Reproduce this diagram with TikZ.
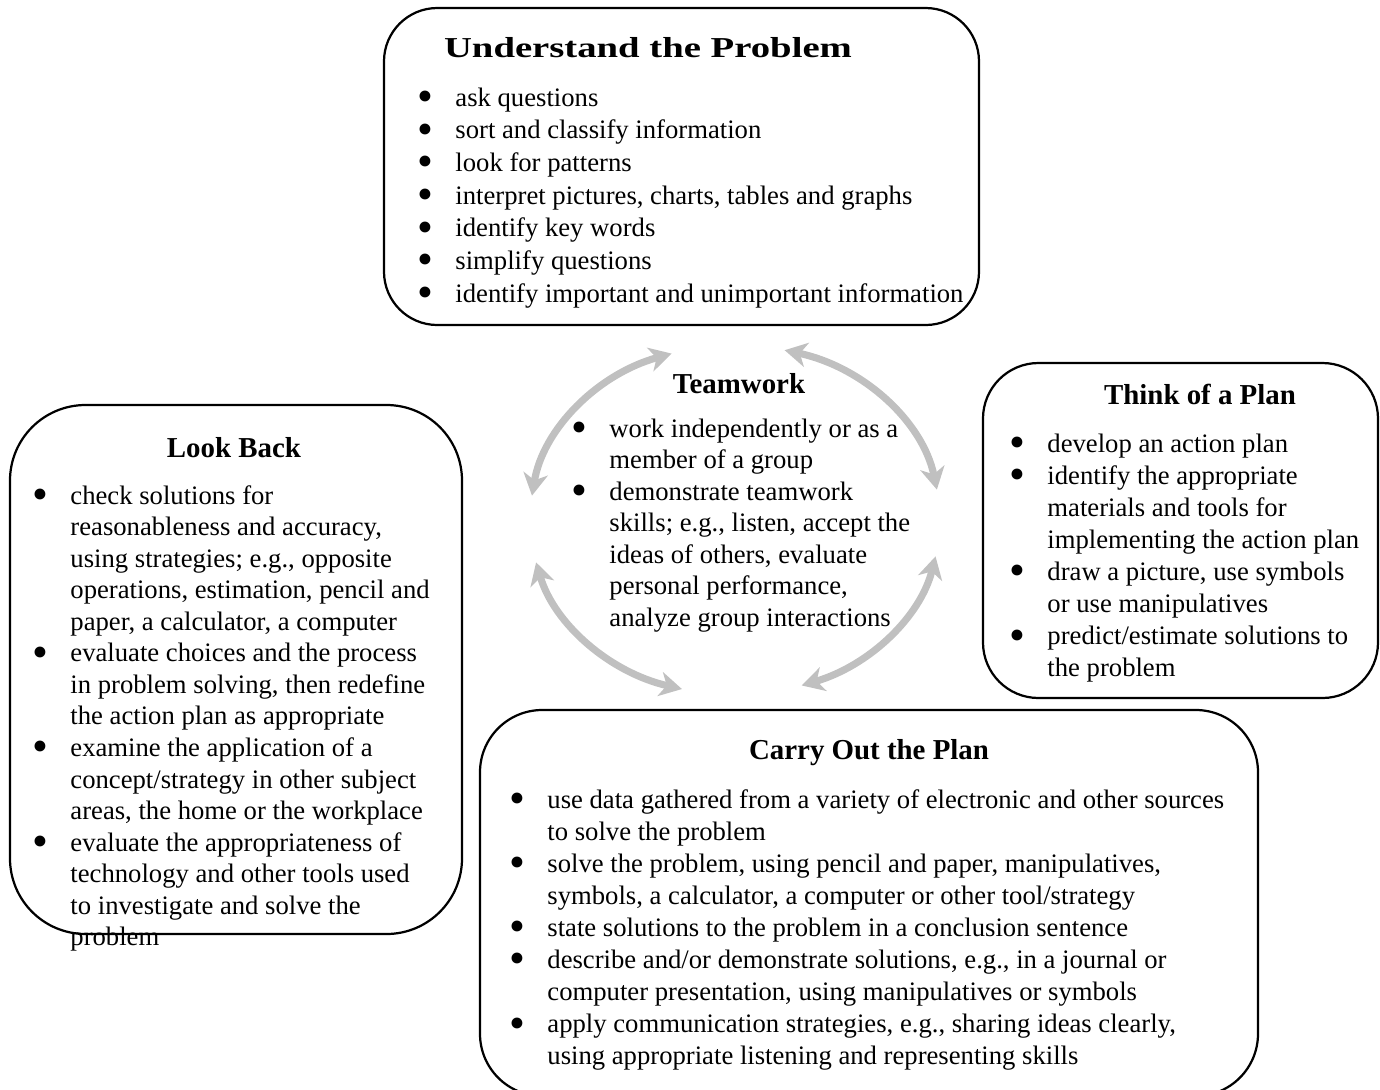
\documentclass[tikz,border=0pt]{standalone}
\usepackage{fontspec}
\setmainfont{Liberation Serif}
\newfontfamily\widebf[FakeStretch=1.34]{Liberation Serif}
\usetikzlibrary{arrows.meta}

\definecolor{cyclegray}{RGB}{192,192,192}
\newcommand{\bu}{\hspace*{-1.5pt}\smash{\raisebox{-2.4pt}{\scalebox{1.7}{\textbullet}}}}
\newenvironment{blist}{\begin{tabular}[t]{@{}p{15.75pt}@{}l@{}}}{\end{tabular}}

\tikzset{
  stage/.style={draw, line width=1pt, rounded corners=#1},
  stagetitle/.style={anchor=base, inner sep=0pt, font=\fontsize{13}{15}\selectfont\bfseries},
  stagelist/.style={anchor=base west, inner sep=0pt, xshift=-15.75pt, font=\fontsize{12}{#1}\selectfont},
  cyclearrow/.style={cyclegray, line width=3.2pt,
    {Stealth[length=10pt,width=11pt,inset=3pt]}-{Stealth[length=10pt,width=11pt,inset=3pt]}},
}

\begin{document}
\begin{tikzpicture}[x=0.45pt,y=0.45pt]
  \useasboundingbox (0,0) rectangle (1380,-1089);
  \clip (0,0) rectangle (1380,-1089);

  % the four stage boxes
  \draw[stage=24pt] (384,-8) rectangle (979,-325);
  \draw[stage=25pt] (983,-363) rectangle (1378,-698);
  \draw[stage=34pt] (10,-405) rectangle (462,-934);
  \draw[stage=28pt] (480,-710) rectangle (1258,-1096);

  % titles
  \node[stagetitle, font=\fontsize{13}{15}\selectfont\widebf\bfseries] (understand) at (648,-57) {Understand the Problem};
  \node[stagetitle] (lookback) at (234,-457) {Look Back};
  \node[stagetitle] (teamwork) at (739,-393) {Teamwork};
  \node[stagetitle] (thinkplan) at (1200,-404) {Think of a Plan};
  \node[stagetitle] (carryout) at (869,-759) {Carry Out the Plan};

  % bullet lists
  \node[stagelist=14.7pt] (understand-list) at (455,-106) {\begin{blist}
    \bu & ask questions\\
    \bu & sort and classify information\\
    \bu & look for patterns\\
    \bu & interpret pictures, charts, tables and graphs\\
    \bu & identify key words\\
    \bu & simplify questions\\
    \bu & identify important and unimportant information
  \end{blist}};
  \node[stagelist=14.2pt] (teamwork-list) at (609,-437) {\begin{blist}
    \bu & work independently or as a\\
        & member of a group\\
    \bu & demonstrate teamwork\\
        & skills; e.g., listen, accept the\\
        & ideas of others, evaluate\\
        & personal performance,\\
        & analyze group interactions
  \end{blist}};
  \node[stagelist=14.45pt] (thinkplan-list) at (1047,-452) {\begin{blist}
    \bu & develop an action plan\\
    \bu & identify the appropriate\\
        & materials and tools for\\
        & implementing the action plan\\
    \bu & draw a picture, use symbols\\
        & or use manipulatives\\
    \bu & predict/estimate solutions to\\
        & the problem
  \end{blist}};
  \node[stagelist=14.2pt] (lookback-list) at (70,-504) {\begin{blist}
    \bu & check solutions for\\
        & reasonableness and accuracy,\\
        & using strategies; e.g., opposite\\
        & operations, estimation, pencil and\\
        & paper, a calculator, a computer\\
    \bu & evaluate choices and the process\\
        & in problem solving, then redefine\\
        & the action plan as appropriate\\
    \bu & examine the application of a\\
        & concept/strategy in other subject\\
        & areas, the home or the workplace\\
    \bu & evaluate the appropriateness of\\
        & technology and other tools used\\
        & to investigate and solve the\\
        & problem
  \end{blist}};
  \node[stagelist=14.45pt] (carryout-list) at (547,-808) {\begin{blist}
    \bu & use data gathered from a variety of electronic and other sources\\
        & to solve the problem\\
    \bu & solve the problem, using pencil and paper, manipulatives,\\
        & symbols, a calculator, a computer or other tool/strategy\\
    \bu & state solutions to the problem in a conclusion sentence\\
    \bu & describe and/or demonstrate solutions, e.g., in a journal or\\
        & computer presentation, using manipulatives or symbols\\
    \bu & apply communication strategies, e.g., sharing ideas clearly,\\
        & using appropriate listening and representing skills
  \end{blist}};

  % grey cycle round the teamwork text
  \coordinate (hub) at (735,-520);
  \foreach \from/\to/\arcname in {172/108/tl, 76/10/tr, 194/255/bl, 289/348/br} {
    \path (hub) ++(\from:205 and 175) coordinate (\arcname-start);
    \draw[cyclearrow] (\arcname-start) arc[start angle=\from, end angle=\to, x radius=205, y radius=175];
  }
\end{tikzpicture}
\end{document}
